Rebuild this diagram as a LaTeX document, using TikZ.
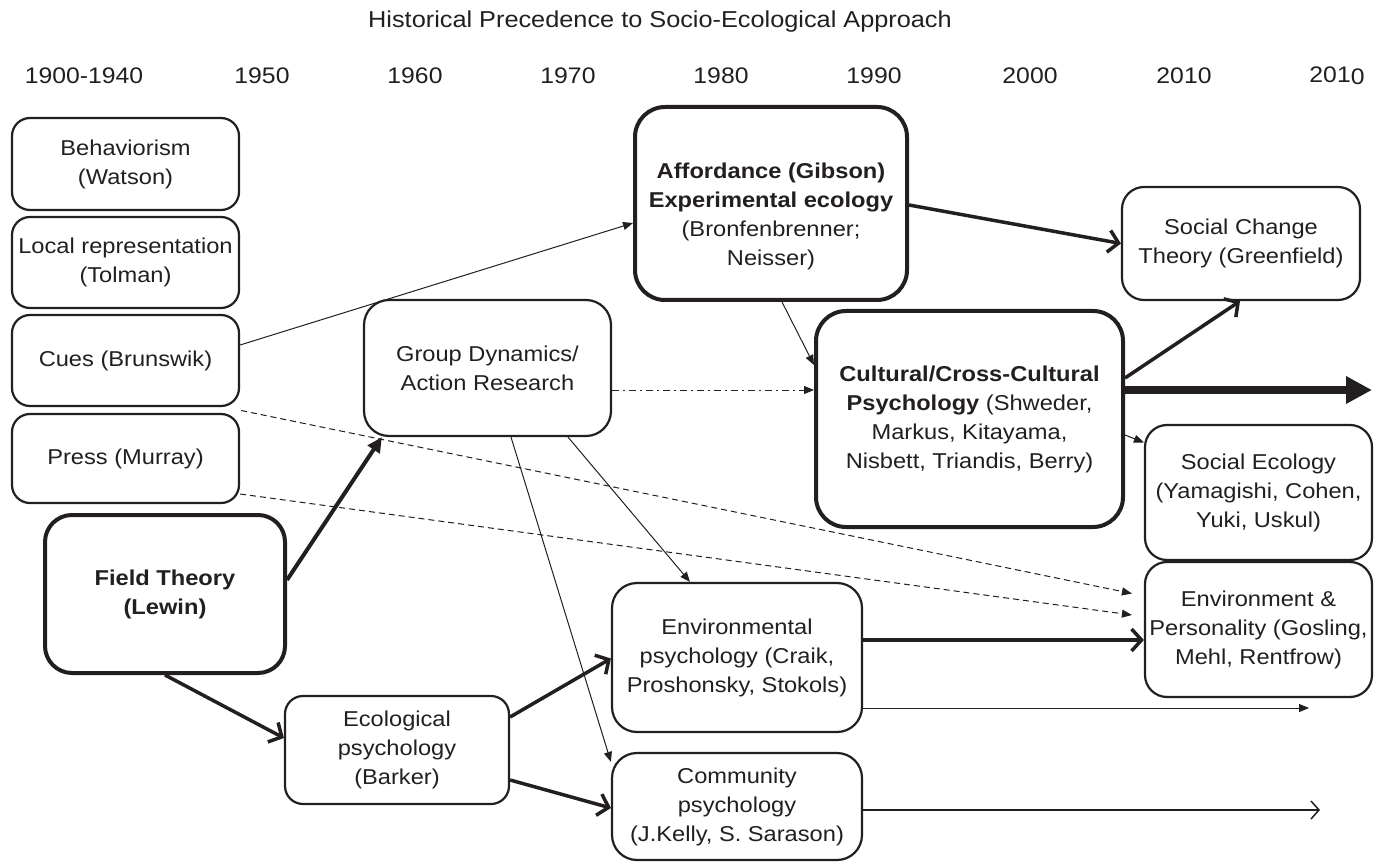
\documentclass[tikz,border=0pt]{standalone}
\usepackage{fontspec}
\setmainfont[FakeStretch=1.1]{Liberation Sans}
\usetikzlibrary{arrows.meta,calc}
\definecolor{ink}{RGB}{35,31,32}
\begin{document}
\begin{tikzpicture}[x=1pt,y=-1pt,
  every node/.style={text=ink},
  txt/.style={align=center, inner sep=0pt, font=\fontsize{21.5}{29}\selectfont},
  head/.style={align=center, inner sep=0pt, font=\fontsize{22.5}{29}\selectfont},
  box/.style={txt, draw=ink, line width=2.2pt, rounded corners=18pt},
  mbox/.style={box, rounded corners=25pt},
  bbox/.style={box, line width=4pt, rounded corners=30pt},
  thin/.style={draw=ink, line width=1pt, -{Triangle[length=10pt,width=8pt]}},
  dsh/.style={thin, dash pattern=on 6pt off 4pt},
  dshdot/.style={thin, dash pattern=on 7pt off 4pt on 2pt off 4pt},
  barb/.style={draw=ink, line width=3.5pt, -{Straight Barb[length=10pt,width=22pt]}},
  thinbarb/.style={draw=ink, line width=1.5pt, -{Straight Barb[length=8pt,width=18pt]}},
  heavy/.style={draw=ink, line width=4pt, -{Triangle[length=15pt,width=14pt]}},
  huge/.style={draw=ink, line width=8pt, -{Triangle[length=26pt,width=26pt]}}
]
\fill[white] (0,0) rectangle (1381,866);
\useasboundingbox (0,0) rectangle (1381,866);

% title and time axis
\node[head, font=\fontsize{23}{29}\selectfont] (title) at (660,22) {Historical Precedence to Socio-Ecological Approach};
\node[head] (y1) at (84,76) {1900-1940};
\node[head] (y2) at (262,76) {1950};
\node[head] (y3) at (415,76) {1960};
\node[head] (y4) at (568,76) {1970};
\node[head] (y5) at (721,76) {1980};
\node[head] (y6) at (874,76) {1990};
\node[head] (y7) at (1030,76) {2000};
\node[head] (y8) at (1184,76) {2010};
\node[head] (y9) at (1337,76) {201\raisebox{-2pt}{0}};

% boxes
\node[box, minimum width=227pt, minimum height=92pt] (beh) at (125.5,164) {Behaviorism\\(Watson)};
\node[box, minimum width=227pt, minimum height=91pt] (loc) at (125.5,262.5) {Local representation\\(Tolman)};
\node[box, minimum width=227pt, minimum height=91pt] (cues) at (125.5,360.5) {Cues (Brunswik)};
\node[box, minimum width=227pt, minimum height=89pt] (press) at (125.5,458.5) {Press (Murray)};
\node[bbox, rounded corners=27pt, minimum width=240pt, minimum height=158pt] (field) at (165,594) {\textbf{Field Theory}\\\textbf{(Lewin)}};
\node[mbox, minimum width=247pt, minimum height=136pt] (gd) at (487.5,368) {Group Dynamics/\\Action Research};
\node[box, minimum width=224pt, minimum height=108pt] (eco) at (397,750) {Ecological\\psychology\\(Barker)};
\node[mbox, minimum width=250pt, minimum height=149pt] (env) at (737,657.5) {Environmental\\psychology (Craik,\\Proshonsky, Stokols)};
\node[mbox, minimum width=250pt, minimum height=107pt] (comm) at (737,806.5) {Community\\psychology\\(J.Kelly, S. Sarason)};
\node[bbox, minimum width=272pt, minimum height=193pt] (aff) at (771,203.5) {};
\node[txt] (afft) at (771,216) {\textbf{Affordance (Gibson)}\\\textbf{Experimental ecology}\\(Bronfenbrenner;\\Neisser)};
\node[bbox, minimum width=307pt, minimum height=216pt] (cult) at (969.5,419) {\textbf{Cultural/Cross-Cultural}\\\textbf{Psychology} (Shweder,\\Markus, Kitayama,\\Nisbett, Triandis, Berry)};
\node[box, rounded corners=22pt, minimum width=238pt, minimum height=113pt] (sc) at (1241,243.5) {Social Change\\Theory (Greenfield)};
\node[box, rounded corners=22pt, minimum width=227pt, minimum height=135pt] (se) at (1258.5,492.5) {Social Ecology\\(Yamagishi, Cohen,\\Yuki, Uskul)};
\node[box, rounded corners=22pt, minimum width=227pt, minimum height=135pt] (ep) at (1258.5,629.5) {Environment \&\\Personality (Gosling,\\Mehl, Rentfrow)};

% free ends
\coordinate (bigend) at (1372,390);
\coordinate (envend) at (1309,708);
\coordinate (commend) at (1320,810);

% connectors
\draw[thin] ([yshift=15.5pt]cues.east) -- ([yshift=-19.5pt]aff.west);
\draw[dsh] ([xshift=1pt,yshift=-50pt]cues.east) -- ([xshift=-12pt,yshift=36pt]ep.west);
\draw[dsh] ([yshift=-35.5pt]press.east) -- ([xshift=-12pt,yshift=14.5pt]ep.west);
\draw[heavy] ([yshift=14pt]field.east) -- ([xshift=19pt]gd.south west);
\draw[barb] (field.south) -- ([yshift=12pt]eco.west);
\draw[barb] ([yshift=33pt]eco.east) -- ([yshift=-1pt]env.west);
\draw[barb] ([yshift=-30pt]eco.east) -- ([yshift=-1.5pt]comm.west);
\draw[thin] ([xshift=80.5pt]gd.south) -- ([xshift=-47pt]env.north);
\draw[thin] ([xshift=23.5pt]gd.south) -- ([yshift=-10pt]comm.north west);
\draw[dshdot] ([yshift=-22pt]gd.east) -- ([yshift=29pt]cult.west);
\draw[thin] ([xshift=11pt]aff.south) -- ([yshift=54pt]cult.west);
\draw[barb] ([yshift=-1.5pt]aff.east) -- (sc.west);
\draw[barb] ([yshift=41pt]cult.east) -- ([xshift=-1pt]sc.south);
\draw[huge] ([yshift=29pt]cult.east) -- (bigend);
\draw[thin] ([yshift=-16pt]cult.east) -- ([yshift=50pt]se.west);
\draw[barb] ([yshift=17.5pt]env.east) -- ([yshift=-10.5pt]ep.west);
\draw[thin] ([yshift=-50.5pt]env.east) -- (envend);
\draw[thinbarb] ([yshift=-3.5pt]comm.east) -- (commend);
\end{tikzpicture}
\end{document}
